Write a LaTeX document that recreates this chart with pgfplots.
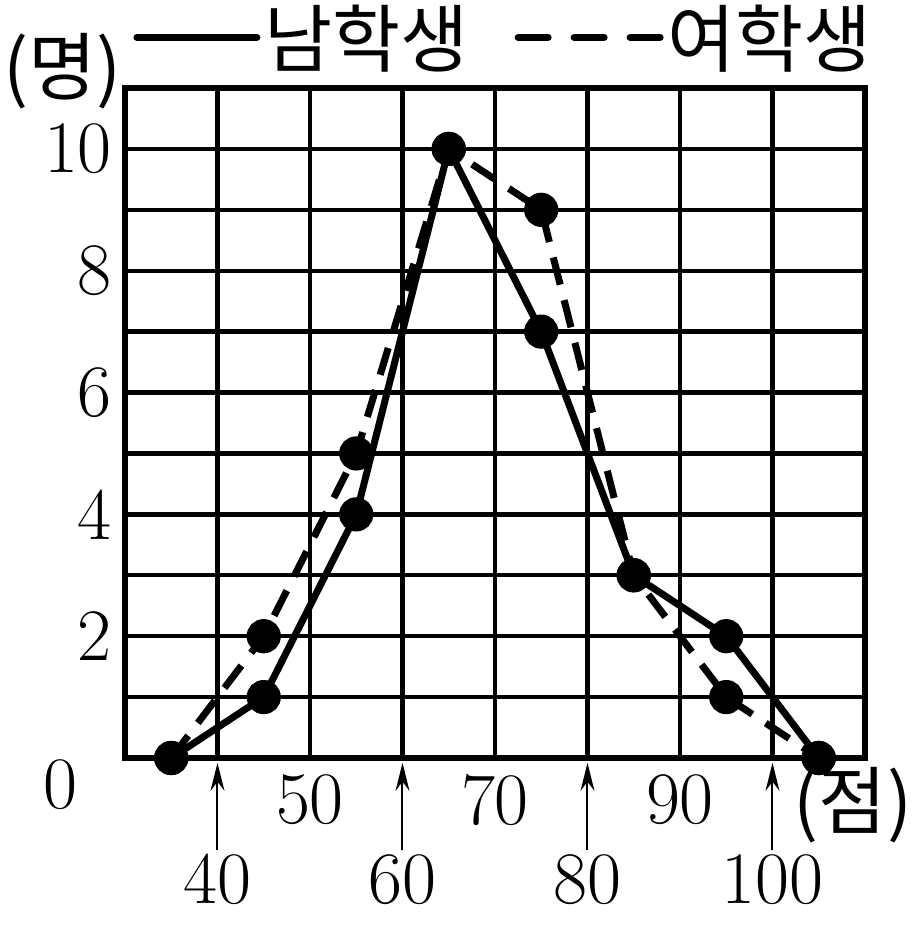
\documentclass[border=0pt]{standalone}
\usepackage{pgfplots}
\pgfplotsset{compat=1.18}
\usepackage{fontspec}
\newfontfamily\kr{Noto Sans CJK KR}
\usetikzlibrary{arrows.meta}

% frequency polygon: midpoints of the classes, count of students
\pgfplotstableread{
x   boys girls
35  0    0
45  1    2
55  4    5
65  10   10
75  7    9
85  3    3
95  2    1
105 0    0
}\scores

\newcommand{\numfont}{\fontsize{37}{40}\selectfont}
\newcommand{\hangul}{\kr\fontsize{37}{40}\selectfont}

\begin{document}
\begin{tikzpicture}
\begin{axis}[
  scale only axis,
  width=370pt, height=335pt,
  xmin=30, xmax=110, ymin=0, ymax=11,
  xtick={30,40,...,110}, xticklabels={},
  ytick={0,1,...,11},
  yticklabels={,,2,,4,,6,,8,,10,},
  yticklabel style={font=\numfont, xshift=-3pt},
  major tick length=0pt,
  grid=major,
  major grid style={black, line width=2.2pt},
  axis line style={black, line width=3pt},
  clip=false,
  legend columns=2,
  legend style={draw=none, fill=none, at={(0,1)}, anchor=south west,
    xshift=4pt, yshift=7pt, font=\hangul, inner sep=0pt,
    /tikz/every even column/.append style={column sep=21pt}},
]
\addplot[black, line width=3.5pt, mark=*, mark size=6.8pt, mark options={solid},
  legend image code/.code={\draw[black, line width=3.5pt, line cap=round] (0pt,0pt) -- (60pt,0pt);}]
  table[x=x, y=boys] {\scores};
\addlegendentry{남학생}
\addplot[black, line width=3.5pt, dash pattern=on 14pt off 8pt, mark=*, mark size=6.8pt, mark options={solid},
  legend image code/.code={\draw[black, line width=3.5pt, line cap=round, dash pattern=on 15pt off 13pt] (2pt,0pt) -- (73pt,0pt);}]
  table[x=x, y=girls] {\scores};
\addlegendentry{여학생}

% class boundaries between the labels
\pgfplotsinvokeforeach{40,60,80,100}{
  \draw[line width=1pt, -{Stealth[length=14pt, width=7pt]}]
    (axis cs:#1,-1.51) -- (axis cs:#1,-0.08);
  \node[font=\numfont] at (axis cs:#1,-2.0) {#1};
}
\pgfplotsinvokeforeach{50,70,90}{
  \node[font=\numfont] at (axis cs:#1,-0.69) {#1};
}
\node[font=\numfont] at (axis cs:23,-0.44) {0};
\node[font=\hangul] at (axis cs:108.7,-0.77) {(점)};
\node[font=\hangul] at (axis cs:23.2,11.28) {(명)};
\end{axis}
\pgfresetboundingbox
\path (-62.5pt,-84pt) rectangle (396.5pt,379pt);
\end{tikzpicture}
\end{document}
